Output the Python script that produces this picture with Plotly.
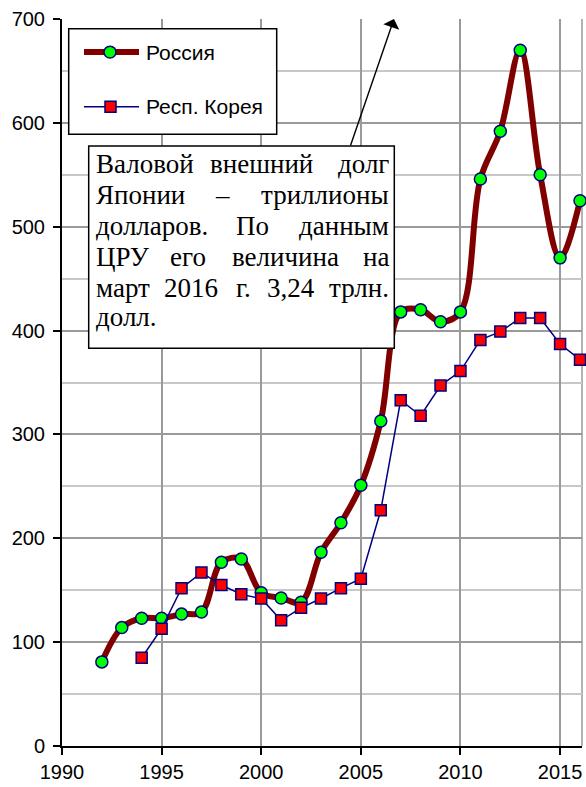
import plotly.graph_objects as go

# Gross external debt, billions of US dollars
russia_years = list(range(1992, 2017))
russia_debt = [81, 114, 123, 123, 127, 129, 177, 180, 147.5, 142.5, 138.5, 186.5,
               215, 251, 313, 418, 420, 408.5, 418, 546, 592, 670, 550, 470, 525]

korea_years = list(range(1994, 2017))
korea_debt = [85, 113, 152, 167, 155, 146, 142, 121, 133, 142, 152, 161,
              227, 333, 318, 347, 361, 391, 399, 412, 412, 387, 372]

x_ticks = [1990, 1995, 2000, 2005, 2010, 2015]
y_ticks = [0, 100, 200, 300, 400, 500, 600, 700]

legend_names = ["Россия", "Респ. Корея"]

# Note text, one list of words per line (justified inside the box)
note_lines = [
    ["Валовой", "внешний", "долг"],
    ["Японии", "–", "триллионы"],
    ["долларов.", "По", "данным"],
    ["ЦРУ", "его", "величина", "на"],
    ["март", "2016", "г.", "3,24", "трлн."],
    ["долл."],
]

# Page geometry (pixels)
W, H = 586, 787
ML, MR, MT, MB = 62, 4, 19, 37
PW, PH = W - ML - MR, H - MT - MB


def px(x):
    return (x - ML) / PW


def py(y):
    return 1 - (y - MT) / PH


RU_LINE = "#800000"
NAVY = "#000080"
GREEN = "#00FF00"
RED = "#FF0000"

fig = go.Figure()

fig.add_trace(go.Scatter(
    x=russia_years, y=russia_debt, name=legend_names[0],
    mode="lines+markers",
    line=dict(color=RU_LINE, width=6, shape="spline", smoothing=1),
    marker=dict(symbol="circle", size=12, color=GREEN, line=dict(color=NAVY, width=1.5)),
    cliponaxis=False,
))

fig.add_trace(go.Scatter(
    x=korea_years, y=korea_debt, name=legend_names[1],
    mode="lines+markers",
    line=dict(color=NAVY, width=1.5),
    marker=dict(symbol="square", size=11, color=RED, line=dict(color=NAVY, width=1.5)),
    cliponaxis=False,
))

shapes = []
# right border of the plot area
shapes.append(dict(type="line", xref="paper", yref="paper", x0=1, x1=1, y0=0, y1=1,
                   line=dict(color="#9a9a9a", width=1.5), layer="below"))

# legend box
shapes.append(dict(type="rect", xref="paper", yref="paper",
                   x0=px(68.7), x1=px(276.7), y0=py(135), y1=py(28.7),
                   line=dict(color="black", width=1.5), fillcolor="white", layer="above"))
# legend sample: Russia
shapes.append(dict(type="line", xref="paper", yref="paper",
                   x0=px(84), x1=px(139), y0=py(52.3), y1=py(52.3),
                   line=dict(color=RU_LINE, width=6), layer="above"))
shapes.append(dict(type="circle", xref="paper", yref="paper",
                   x0=px(104), x1=px(116), y0=py(58.3), y1=py(46.3),
                   line=dict(color=NAVY, width=1.5), fillcolor=GREEN, layer="above"))
# legend sample: Korea
shapes.append(dict(type="line", xref="paper", yref="paper",
                   x0=px(84), x1=px(139), y0=py(107.3), y1=py(107.3),
                   line=dict(color=NAVY, width=1.5), layer="above"))
shapes.append(dict(type="rect", xref="paper", yref="paper",
                   x0=px(105), x1=px(116), y0=py(112.8), y1=py(101.8),
                   line=dict(color=NAVY, width=1.5), fillcolor=RED, layer="above"))

# note box
shapes.append(dict(type="rect", xref="paper", yref="paper",
                   x0=px(88.7), x1=px(394.3), y0=py(350), y1=py(146.7),
                   line=dict(color="black", width=1.5), fillcolor="white", layer="above"))

annotations = []
legend_font = dict(family="Liberation Sans", size=21, color="black")
annotations.append(dict(xref="paper", yref="paper", x=px(144), y=py(52.3),
                        text=legend_names[0], showarrow=False, xanchor="left",
                        yanchor="middle", font=legend_font))
annotations.append(dict(xref="paper", yref="paper", x=px(144), y=py(107.3),
                        text=legend_names[1], showarrow=False, xanchor="left",
                        yanchor="middle", font=legend_font))

# justified note text: first word at left edge, last at right edge,
# inner words at their centres
note_font = dict(family="Liberation Serif", size=27, color="black")
text_left, text_right = 95, 390
line_centres = [165, 196, 227, 258, 289, 319]
inner_centres = [[261], [222], [252], [188, 285], [191, 243, 291], []]
for words, yc, mids in zip(note_lines, line_centres, inner_centres):
    annotations.append(dict(xref="paper", yref="paper", x=px(text_left), y=py(yc),
                            text=words[0], showarrow=False, xanchor="left",
                            yanchor="middle", font=note_font, borderpad=0))
    for w, xc in zip(words[1:-1], mids):
        annotations.append(dict(xref="paper", yref="paper", x=px(xc), y=py(yc),
                                text=w, showarrow=False, xanchor="center",
                                yanchor="middle", font=note_font, borderpad=0))
    if len(words) > 1:
        annotations.append(dict(xref="paper", yref="paper", x=px(text_right), y=py(yc),
                                text=words[-1], showarrow=False, xanchor="right",
                                yanchor="middle", font=note_font, borderpad=0))

# arrow from the note box pointing up and out of the chart
annotations.append(dict(xref="paper", yref="paper", x=px(394), y=py(19),
                        ax=-44, ay=128, text="", showarrow=True,
                        arrowhead=1, arrowsize=2.0, arrowwidth=1.4,
                        arrowcolor="black", standoff=0, startstandoff=0))

tick_font = dict(family="Liberation Sans", size=20, color="black")

fig.update_layout(
    width=W, height=H,
    margin=dict(l=ML, r=MR, t=MT, b=MB, pad=0),
    paper_bgcolor="white", plot_bgcolor="white",
    showlegend=False,
    shapes=shapes,
    annotations=annotations,
    xaxis=dict(
        range=[1990, 2016.1], tickvals=x_ticks, ticktext=[str(v) for v in x_ticks],
        showgrid=True, gridcolor="#9a9a9a", gridwidth=1.5,
        showline=True, linecolor="black", linewidth=2,
        ticks="outside", ticklen=7, tickwidth=1.5, tickcolor="black",
        zeroline=False, tickfont=tick_font,
    ),
    yaxis=dict(
        range=[0, 700], tickvals=y_ticks, ticktext=[str(v) for v in y_ticks],
        showgrid=True, gridcolor="#9a9a9a", gridwidth=1.5,
        minor=dict(dtick=50, showgrid=True, gridcolor="#c8c8c8", gridwidth=1.5),
        showline=True, linecolor="black", linewidth=2,
        ticks="outside", ticklen=7, tickwidth=1.5, tickcolor="black",
        zeroline=False, tickfont=tick_font, ticklabelstandoff=4,
    ),
)

fig.write_html("out.html")
